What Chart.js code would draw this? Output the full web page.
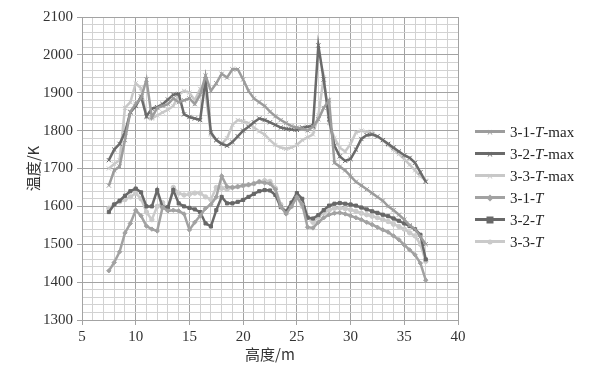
<!DOCTYPE html>
<html>
<head>
<meta charset="utf-8">
<script src="https://cdn.jsdelivr.net/npm/chart.js@4"></script>
<style>
  body { margin: 0; background: #fff; }
  #wrap { position: relative; width: 611px; height: 370px; }
  #legend { position: absolute; left: 475px; top: 121px; font-family: 'Liberation Serif', serif; font-size: 15px; color: #222; }
  .item { height: 22px; display: flex; align-items: center; }
  .sw { position: relative; width: 30px; height: 22px; margin-right: 5px; }
  .sw .ln { position: absolute; left: 0; top: 9px; width: 30px; height: 3px; }
  .sw .mk { position: absolute; left: 15px; top: 10.5px; transform: translate(-50%, -50%); }
</style>
</head>
<body>
<div id="wrap">
  <canvas id="chart" width="611" height="370"></canvas>
  <div id="legend"></div>
</div>
<script>
const heights = [7.5, 8, 8.5, 9, 9.5, 10, 10.5, 11, 11.5, 12, 12.5, 13, 13.5, 14, 14.5, 15, 15.5, 16, 16.5, 17,
  17.5, 18, 18.5, 19, 19.5, 20, 20.5, 21, 21.5, 22, 22.5, 23, 23.5, 24, 24.5, 25, 25.5, 26, 26.5, 27,
  27.5, 28, 28.5, 29, 29.5, 30, 30.5, 31, 31.5, 32, 32.5, 33, 33.5, 34, 34.5, 35, 35.5, 36, 36.5, 37];

const t31max = [1655, 1695, 1705, 1775, 1850, 1870, 1885, 1935, 1835, 1860, 1865, 1870, 1885, 1875, 1880, 1885, 1870, 1895, 1945, 1905,
  1925, 1950, 1940, 1962, 1962, 1935, 1905, 1885, 1875, 1865, 1850, 1838, 1828, 1820, 1812, 1808, 1805, 1800, 1810, 1830,
  1860, 1880, 1715, 1705, 1695, 1680, 1665, 1655, 1645, 1635, 1625, 1615, 1600, 1590, 1578, 1565, 1550, 1540, 1520, 1500];
const t32max = [1722, 1750, 1765, 1795, 1848, 1865, 1890, 1838, 1858, 1862, 1870, 1882, 1895, 1897, 1843, 1836, 1832, 1828, 1935, 1795,
  1775, 1765, 1760, 1770, 1785, 1800, 1810, 1822, 1832, 1828, 1822, 1815, 1808, 1805, 1803, 1802, 1808, 1810, 1812, 2025,
  1935, 1830, 1760, 1732, 1720, 1725, 1750, 1778, 1788, 1790, 1785, 1775, 1765, 1755, 1745, 1735, 1728, 1715, 1690, 1665];
const t33max = [1700, 1712, 1722, 1860, 1875, 1925, 1912, 1835, 1832, 1840, 1848, 1855, 1865, 1895, 1905, 1900, 1880, 1910, 1900, 1790,
  1775, 1765, 1780, 1815, 1828, 1825, 1820, 1808, 1798, 1790, 1775, 1762, 1755, 1752, 1755, 1762, 1775, 1782, 1790, 1840,
  1940, 1820, 1780, 1755, 1745, 1765, 1795, 1800, 1797, 1793, 1785, 1775, 1762, 1750, 1738, 1725, 1710, 1695, 1680, 1668];
const t31 = [1430, 1452, 1480, 1530, 1555, 1590, 1575, 1548, 1540, 1535, 1598, 1588, 1590, 1588, 1580, 1538, 1558, 1575, 1595, 1605,
  1625, 1680, 1652, 1650, 1652, 1655, 1657, 1660, 1665, 1662, 1660, 1645, 1600, 1580, 1600, 1625, 1605, 1545, 1543, 1558,
  1570, 1578, 1582, 1583, 1580, 1575, 1570, 1565, 1558, 1552, 1545, 1538, 1532, 1522, 1512, 1498, 1485, 1472, 1450, 1405];
const t32 = [1585, 1605, 1615, 1628, 1640, 1647, 1637, 1600, 1600, 1643, 1598, 1598, 1643, 1608, 1600, 1596, 1592, 1585, 1555, 1547,
  1590, 1625, 1608, 1608, 1612, 1617, 1625, 1633, 1640, 1643, 1642, 1630, 1598, 1586, 1610, 1635, 1620, 1570, 1568, 1577,
  1590, 1602, 1607, 1609, 1607, 1605, 1602, 1597, 1592, 1587, 1583, 1578, 1574, 1568, 1562, 1555, 1548, 1540, 1525, 1460];
const t33 = [1595, 1605, 1612, 1618, 1625, 1635, 1620, 1585, 1565, 1600, 1610, 1592, 1650, 1635, 1630, 1632, 1635, 1635, 1625, 1618,
  1650, 1648, 1645, 1650, 1652, 1655, 1657, 1660, 1665, 1668, 1666, 1648, 1605, 1585, 1600, 1625, 1600, 1572, 1558, 1572,
  1583, 1590, 1595, 1596, 1594, 1591, 1587, 1582, 1578, 1574, 1570, 1565, 1560, 1553, 1547, 1540, 1530, 1522, 1500, 1455];

const seriesNames = ['3-1-<i>T</i>-max', '3-2-<i>T</i>-max', '3-3-<i>T</i>-max', '3-1-<i>T</i>', '3-2-<i>T</i>', '3-3-<i>T</i>'];
const seriesValues = [t31max, t32max, t33max, t31, t32, t33];
const seriesColors = ['#9c9c9c', '#6a6a6a', '#c8c8c8', '#a2a2a2', '#686868', '#cacaca'];
const seriesPoints = ['crossRot', 'crossRot', 'crossRot', 'rectRot', 'rect', 'circle'];

const datasets = seriesValues.map((vals, i) => ({
  label: seriesNames[i].replace(/<\/?i>/g, ''),
  data: heights.map((h, j) => ({ x: h, y: vals[j] })),
  borderColor: seriesColors[i],
  backgroundColor: seriesColors[i],
  borderWidth: 2.5,
  pointStyle: seriesPoints[i],
  pointRadius: seriesPoints[i] === 'crossRot' ? 3 : 2.2,
  pointBorderWidth: 1,
  tension: 0
}));

const major = '#a3a3a3';
const minor = '#d2d2d2';

Chart.defaults.font.family = "'Liberation Serif', 'Times New Roman', serif";
Chart.defaults.font.size = 15;
Chart.defaults.color = '#333';

new Chart(document.getElementById('chart'), {
  type: 'line',
  data: { datasets },
  options: {
    responsive: false,
    animation: false,
    devicePixelRatio: 1,
    layout: { padding: { top: 17, right: 153, left: 0, bottom: 0 } },
    plugins: { legend: { display: false }, tooltip: { enabled: false } },
    scales: {
      x: {
        type: 'linear',
        min: 5, max: 40,
        ticks: {
          stepSize: 1, autoSkip: false, maxRotation: 0, padding: 3,
          callback: v => (v % 5 === 0 ? v : '')
        },
        grid: {
          color: c => (c.tick.value % 5 === 0 ? major : minor),
          tickColor: c => (c.tick.value % 5 === 0 ? major : 'rgba(0,0,0,0)'),
          tickLength: 5
        },
        border: { color: major },
        title: {
          display: true, text: '高度/m',
          font: { family: "'Noto Sans CJK SC', sans-serif", size: 15 },
          color: '#333',
          padding: { top: 0, bottom: 7 }
        },
        afterFit: s => { s.height = 50; }
      },
      y: {
        min: 1300, max: 2100,
        ticks: {
          stepSize: 20, autoSkip: false, padding: 4,
          callback: v => (v % 100 === 0 ? v : '')
        },
        grid: {
          color: c => (c.tick.value % 100 === 0 ? major : minor),
          tickColor: c => (c.tick.value % 100 === 0 ? major : 'rgba(0,0,0,0)'),
          tickLength: 5
        },
        border: { color: major },
        title: {
          display: true, text: '温度/K',
          font: { family: "'Noto Sans CJK SC', sans-serif", size: 15 },
          color: '#333',
          padding: { top: 24, bottom: 0 }
        },
        afterFit: s => { s.width = 82; }
      }
    }
  }
});

// legend with italic T
const legend = document.getElementById('legend');
seriesNames.forEach((name, i) => {
  const col = seriesColors[i];
  let mk = '';
  if (seriesPoints[i] === 'crossRot') {
    mk = `<span class="mk" style="color:${col};font-size:11px;font-family:sans-serif;line-height:1">&#215;</span>`;
  } else if (seriesPoints[i] === 'rect') {
    mk = `<span class="mk" style="width:7px;height:7px;background:${col}"></span>`;
  } else if (seriesPoints[i] === 'rectRot') {
    mk = `<span class="mk" style="width:5px;height:5px;background:${col};transform:translate(-50%,-50%) rotate(45deg)"></span>`;
  } else {
    mk = `<span class="mk" style="width:5px;height:5px;border-radius:50%;background:${col}"></span>`;
  }
  const div = document.createElement('div');
  div.className = 'item';
  div.innerHTML = `<span class="sw"><span class="ln" style="background:${col}"></span>${mk}</span><span>${name}</span>`;
  legend.appendChild(div);
});
</script>
</body>
</html>
